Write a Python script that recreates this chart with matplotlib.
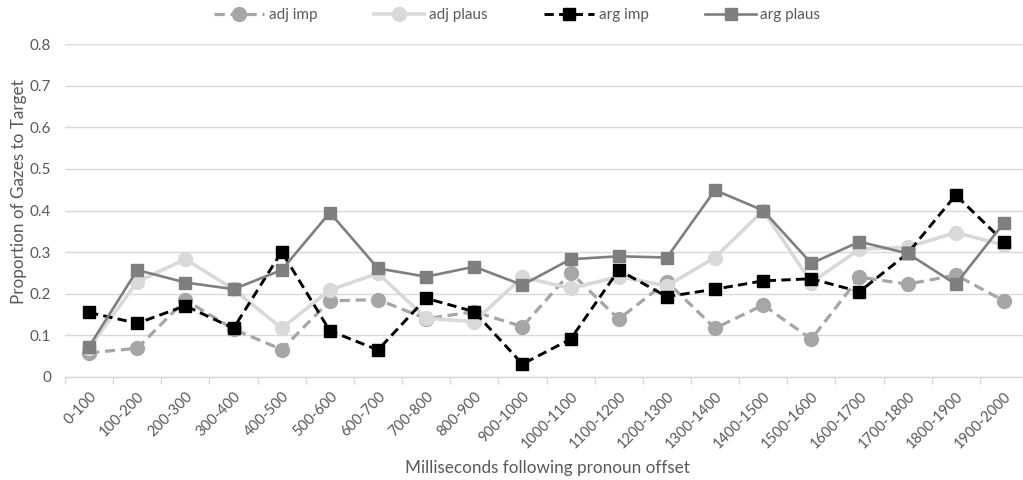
import matplotlib
matplotlib.use("Agg")
import matplotlib.pyplot as plt
from matplotlib.ticker import FixedLocator

plt.rcParams['font.family'] = ['Lato', 'DejaVu Sans']

# time bins after pronoun offset
categories = ["0-100", "100-200", "200-300", "300-400", "400-500", "500-600",
              "600-700", "700-800", "800-900", "900-1000", "1000-1100",
              "1100-1200", "1200-1300", "1300-1400", "1400-1500", "1500-1600",
              "1600-1700", "1700-1800", "1800-1900", "1900-2000"]

adj_imp = [0.058, 0.069, 0.185, 0.115, 0.066, 0.183, 0.186, 0.140, 0.157, 0.121,
           0.251, 0.139, 0.229, 0.117, 0.173, 0.091, 0.240, 0.223, 0.245, 0.183]
adj_plaus = [0.070, 0.229, 0.283, 0.211, 0.117, 0.209, 0.249, 0.141, 0.133, 0.240,
             0.213, 0.241, 0.219, 0.287, 0.400, 0.227, 0.307, 0.312, 0.347, 0.317]
arg_imp = [0.155, 0.129, 0.171, 0.117, 0.301, 0.111, 0.065, 0.189, 0.157, 0.031,
           0.091, 0.257, 0.193, 0.211, 0.231, 0.236, 0.205, 0.297, 0.437, 0.325]
arg_plaus = [0.073, 0.257, 0.227, 0.211, 0.257, 0.395, 0.261, 0.241, 0.265, 0.221,
             0.283, 0.290, 0.287, 0.449, 0.400, 0.273, 0.325, 0.297, 0.223, 0.370]

yticks = [0, 0.1, 0.2, 0.3, 0.4, 0.5, 0.6, 0.7, 0.8]
ytick_labels = ["0", "0.1", "0.2", "0.3", "0.4", "0.5", "0.6", "0.7", "0.8"]

fig = plt.figure(figsize=(10.23, 4.8), dpi=100)
# axes runs a little past the right edge, as in the original
ax = fig.add_axes([65/1023, 103/480, 963/1023, 333/480])

x = list(range(len(categories)))
dash = (3.2, 1.8)
ax.plot(x, adj_imp, color="#a6a6a6", lw=2.3, ls=(0, dash), marker="o", ms=10,
        label="adj imp")
ax.plot(x, adj_plaus, color="#d9d9d9", lw=2.6, marker="o", ms=10,
        label="adj plaus")
ax.plot(x, arg_imp, color="black", lw=2.1, ls=(0, dash), marker="s", ms=9,
        label="arg imp")
ax.plot(x, arg_plaus, color="#7f7f7f", lw=1.9, marker="s", ms=9,
        label="arg plaus")

ax.set_xlim(-0.5, len(categories) - 0.5)
ax.set_ylim(0, 0.8)
ax.set_yticks(yticks)
ax.set_yticklabels(ytick_labels)
ax.set_xticks(x)
ax.set_xticklabels(categories, rotation=45, ha="right", rotation_mode="anchor")
ax.xaxis.set_minor_locator(FixedLocator([i - 0.5 for i in range(len(categories) + 1)]))

ax.tick_params(axis="x", which="major", length=0, pad=9, labelsize=10.5,
               labelcolor="#595959")
ax.tick_params(axis="x", which="minor", length=5, width=1, color="#d9d9d9")
ax.tick_params(axis="y", length=0, pad=10, labelsize=11, labelcolor="#595959")

ax.grid(axis="y", color="#d9d9d9", lw=1)
ax.set_axisbelow(True)
for s in ["top", "right", "left"]:
    ax.spines[s].set_visible(False)
ax.spines["bottom"].set_color("#d9d9d9")
ax.spines["bottom"].set_linewidth(1)

fig.text(19/1023, 1 - 192/480, "Proportion of Gazes to Target", rotation=90,
         ha="center", va="center", fontsize=12.3, color="#595959")
fig.text(547/1023, 1 - 468/480, "Milliseconds following pronoun offset",
         ha="center", va="center", fontsize=12.3, color="#595959")

fig.legend(loc="center", bbox_to_anchor=(517/1023, 1 - 15/480), ncol=4,
           frameon=False, fontsize=11, handlelength=3.3, handletextpad=0.3,
           columnspacing=3.7, labelcolor="#595959")

fig.savefig("out.png", dpi=100)
